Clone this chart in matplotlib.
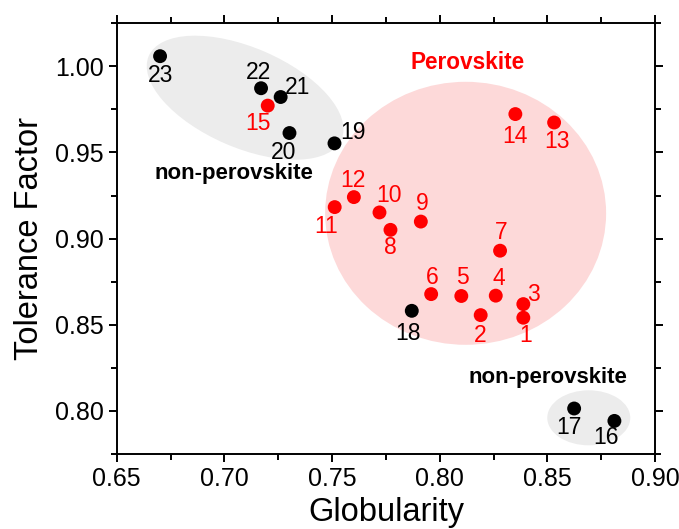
import matplotlib
matplotlib.use("Agg")
import matplotlib.pyplot as plt
from matplotlib.patches import Ellipse
from matplotlib.ticker import MultipleLocator
from matplotlib.transforms import ScaledTranslation

plt.rcParams['font.family'] = ['Liberation Sans', 'DejaVu Sans']

# sample numbers and their (globularity, tolerance factor)
ids = list(range(1, 24))
globularity = [0.8388, 0.8190, 0.8388, 0.8260, 0.8100, 0.7960, 0.8280, 0.7771,
               0.7912, 0.7720, 0.7512, 0.7601, 0.8531, 0.8351, 0.7201, 0.8811,
               0.8624, 0.7870, 0.7511, 0.7302, 0.7261, 0.7170, 0.6701]
tolerance = [0.8541, 0.8556, 0.8620, 0.8669, 0.8667, 0.8678, 0.8930, 0.9051,
             0.9099, 0.9152, 0.9183, 0.9241, 0.9674, 0.9723, 0.9772, 0.7942,
             0.8014, 0.8581, 0.9553, 0.9613, 0.9822, 0.9873, 1.0059]
is_perovskite = [True] * 15 + [False] * 8

# label offsets in points (x, y)
label_off = {1: (2, -13), 2: (0, -15), 3: (7, 7), 4: (2, 12), 5: (1, 13),
             6: (1, 12), 7: (1, 13), 8: (0, -13), 9: (1, 13), 10: (7, 12),
             11: (-6, -14), 12: (-1, 12), 13: (2, -14), 14: (0, -16),
             15: (-7, -13), 16: (-6, -12), 17: (-4, -14), 18: (-3, -16),
             19: (13, 8), 20: (-4, -14), 21: (12, 7), 22: (-2, 11), 23: (0, -14)}

fig = plt.figure(figsize=(6.79, 5.29), dpi=100)
ax = fig.add_axes([0.172, 0.1418, 0.7928, 0.8142])
ax.set_xlim(0.65, 0.90)
ax.set_ylim(0.775, 1.025)


def blob(x, y, w, h, angle, color):
    # ellipse sized in inches, centred on a data point
    tr = fig.dpi_scale_trans + ScaledTranslation(x, y, ax.transData)
    e = Ellipse((0, 0), w, h, angle=angle, transform=tr, facecolor=color,
                edgecolor='none', zorder=1)
    ax.add_patch(e)


blob(0.7096, 0.9818, 2.10, 1.00, -23.4, '#ececec')
blob(0.8692, 0.7960, 0.83, 0.55, 0, '#ececec')
blob(0.8120, 0.9147, 2.81, 2.63, 0, '#fdd9d9')

for i, gx, ty, per in zip(ids, globularity, tolerance, is_perovskite):
    c = '#ff0000' if per else 'black'
    ax.scatter(gx, ty, s=100, color=c, edgecolors='none', zorder=3)
    ax.annotate(str(i), (gx, ty), xytext=label_off[i], textcoords='offset points',
                ha='center', va='center', fontsize=16.5, color=c, zorder=4)

ax.text(0.813, 1.0023, 'Perovskite', color='#ff0000', fontsize=16.3,
        fontweight='bold', ha='center', va='center')
ax.text(0.7045, 0.9376, 'non-perovskite', color='black', fontsize=16,
        fontweight='bold', ha='center', va='center')
ax.text(0.8503, 0.8196, 'non-perovskite', color='black', fontsize=16,
        fontweight='bold', ha='center', va='center')

ax.xaxis.set_major_locator(MultipleLocator(0.05))
ax.xaxis.set_minor_locator(MultipleLocator(0.025))
ax.yaxis.set_major_locator(MultipleLocator(0.05))
ax.yaxis.set_minor_locator(MultipleLocator(0.025))
ax.xaxis.set_major_formatter(lambda v, p: f'{v:.2f}')
ax.yaxis.set_major_formatter(lambda v, p: f'{v:.2f}')
ax.tick_params(which='both', direction='out', top=True, right=True, width=1.4,
               labelsize=18)
ax.tick_params(which='major', length=6)
ax.tick_params(which='minor', length=4)
for s in ax.spines.values():
    s.set_linewidth(1.4)

ax.set_xlabel('Globularity', fontsize=23.5, labelpad=4)
ax.set_ylabel('Tolerance Factor', fontsize=23.5, labelpad=7)

fig.savefig('out.png', dpi=100)
